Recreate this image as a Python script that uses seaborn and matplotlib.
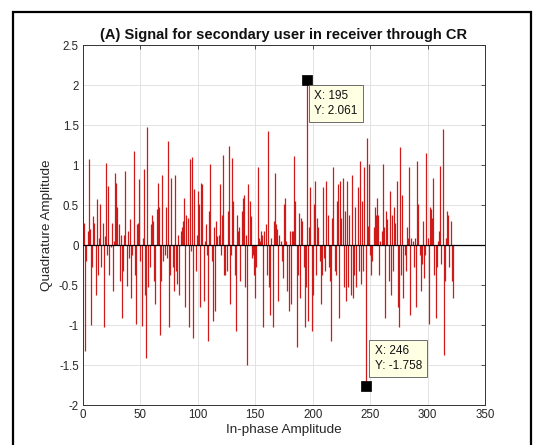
import numpy as np
import pandas as pd
import matplotlib
matplotlib.use("Agg")
import matplotlib.pyplot as plt
import seaborn as sns
from matplotlib.patches import Rectangle

# ---- data (index 1..322) ----
seg1 = [0.27, -1.33, -0.2, 0.17, 1.07, 0.2, -1.0, -0.28, 0.36, 0.28, -0.62, 0.57, -0.37, 0.09,
        0.51, -0.28, 0.28, -1.03, 0.11, 1.02, -0.12, 0.74, -0.37, -0.03, 0.28, -0.58, 0.05, 0.9]
seg2 = [0.78, 0.47, 0.26, -0.45, 0.13, -0.91, -0.33, 0.13, 0.93, -0.51, 0.17, -0.16, 0.32, -0.66,
        -0.12, 1.18, -0.37, -0.99, 0.26, 0.28, 0.82, -0.2, -1.01, 0.09, 0.95, -0.62, -1.41, 1.47, -0.53]
seg3 = [-0.28, 0.26, 0.38, 0.3, -0.45, -0.74, 0.45, 0.78, 0.47, -1.12, -0.45, 0.88, -0.2, -0.12,
        0.47, -0.16, 1.3, -1.03, -0.37, 0.84, -0.28, -0.58, 0.88, -0.33, -0.49, 0.13, -0.62, 0.17]
seg4 = [0.22, 0.3, 0.59, -0.78, 0.38, 0.34, -1.03, 1.07, -0.08, 1.1, -1.16, 0.7, -0.33, 0.13,
        0.68, 0.51, -0.78, 0.78, 0.76, -0.7, 0.05, 0.26, -0.12, -1.2, 0.43, 1.01, -0.2, -0.95, 0.22]
seg5 = [-0.83, 0.3, 0.11, 0.13, 0.76, -0.12, 0.38, 1.13, -0.37, -0.37, -0.33, 0.43, 1.24, -0.74,
        -0.12, 1.09, 0.55, -0.37, -1.07, 0.38, 0.17, 0.22, -0.45, 0.43, 0.59, 0.63, -0.53, 0.13]
seg6 = [-1.5, 0.76, 0.55, 0.36, -0.16, -0.12, -0.37, -0.66, -0.28, 0.97, 0.09, 0.05, 0.17, 0.13,
        -1.03, 0.17, 0.26, -0.37, 1.43, -0.53, -0.87, 0.09, -1.03, 0.3, 0.9, 0.26, 0.2, -0.7, 0.13]
seg7 = [0.05, -0.2, -0.41, 0.51, 0.59, 0.05, -0.58, -0.83, 0.17, -0.74, 0.17, 0.17, 1.11, 0.55,
        -1.28, -0.37, 0.4, -0.66, 0.34, 0.3, -0.28, -1.03, -0.53,
        2.061,
        -0.95, 0.22, 0.72, -1.07, -0.62, 0.51, 0.8, -0.37]
seg8 = [0.34, 0.22, -0.2, -0.74, -0.37, 0.72, -0.16, -0.33, 0.8, 0.38, -0.28, -0.45, -1.2, 0.34,
        0.97, -0.33, -0.37, 0.55, 0.76, -0.91, 0.8, 0.34, 0.84, -0.53, 0.43, -0.7, 0.8]
seg9 = [-0.53, 0.38, -0.62, 0.88, -0.66, -0.37, 0.47, -0.53, 0.72, -0.33, 1.05, -0.49, 0.55, -0.33, 0.97,
        -1.758,
        1.34, 0.24, 1.01, -0.12, -0.37, -0.2, 0.22, 0.47, 0.38, 0.59, 0.38, -0.37, 0.05, 0.17]
seg10 = [1.01, 0.22, -0.91, 0.43, 0.32, -0.45, 0.68, -0.62, 0.38, -0.33, 0.47, 0.28, 0.8, -0.78,
         -1.03, 1.22, -0.37, 0.63, -0.66, -0.12, -0.33, 0.22, 0.09, 0.97, -0.87, 0.09, 0.05, -0.28,
         0.09, -0.78, 1.05]
seg11 = [0.51, -0.12, -0.58, -0.24, 0.3, -0.41, -0.12, 1.15, 0.09, -0.99, 0.47, 0.45, 0.34, 0.84,
         -0.37, -0.91, -0.28, 0.05, 0.17, 0.99, -0.24, 1.45, -1.37, -0.45, 0.09, 0.43, 0.38, -0.28,
         0.3, -0.45, -0.66]

quad_values = seg1 + seg2 + seg3 + seg4 + seg5 + seg6 + seg7 + seg8 + seg9 + seg10 + seg11
tip_x = [195, 246]
tip_y = [2.061, -1.758]
tip_labels = ["X: 195\nY: 2.061", "X: 246\nY: -1.758"]

x_ticks = [0, 50, 100, 150, 200, 250, 300, 350]
y_ticks = [-2, -1.5, -1, -0.5, 0, 0.5, 1, 1.5, 2, 2.5]
y_tick_labels = ["-2", "-1.5", "-1", "-0.5", "0", "0.5", "1", "1.5", "2", "2.5"]

df = pd.DataFrame({"n": np.arange(1, len(quad_values) + 1), "q": quad_values})
tips = pd.DataFrame({"x": tip_x, "y": tip_y})

# ---- style ----
sns.set_theme(style="whitegrid")
plt.rcParams["font.family"] = ["Liberation Sans", "DejaVu Sans"]
plt.rcParams["axes.unicode_minus"] = False

fig = plt.figure(figsize=(5.33, 4.45), dpi=100)
fig.patch.set_facecolor("white")
ax = fig.add_axes([83 / 533, 40 / 445, 402 / 533, 360 / 445])
ax.set_facecolor("white")

# stems
ax.vlines(df["n"], 0, df["q"], color="#cf1a1a", lw=0.9, zorder=2)
ax.axhline(0, color="black", lw=0.9, zorder=3)

# data tips
sns.scatterplot(data=tips, x="x", y="y", marker="s", s=42, color="black",
                edgecolor="black", ax=ax, zorder=5, legend=False)
offsets = [((7, -10), "left", "top"), ((9, 14), "left", "bottom")]
for (xx, yy, lab, (off, ha, va)) in zip(tip_x, tip_y, tip_labels, offsets):
    ax.annotate(lab, (xx, yy), xytext=off, textcoords="offset pixels",
                ha=ha, va=va, fontsize=8.5, color="#111111", linespacing=1.3,
                bbox=dict(boxstyle="square,pad=0.45", fc="#ffffe4", ec="#555555", lw=0.6),
                zorder=6)

ax.set_xlim(0, 350)
ax.set_ylim(-2, 2.5)
ax.set_xticks(x_ticks)
ax.set_xticklabels([str(t) for t in x_ticks])
ax.set_yticks(y_ticks)
ax.set_yticklabels(y_tick_labels)

ax.grid(True, color="#dedede", lw=0.6)
for s in ax.spines.values():
    s.set_color("#333333")
    s.set_linewidth(0.7)
ax.tick_params(direction="in", length=3, width=0.6, top=True, right=True,
               labelsize=8.3, colors="#333333", pad=3)
ax.tick_params(axis="both", labelcolor="#262626")

ax.set_title("(A) Signal for secondary user in receiver through CR", fontsize=10.5,
             fontweight="bold", pad=4, color="#111111")
ax.set_xlabel("In-phase Amplitude", fontsize=9.7, labelpad=2, color="#262626")
ax.set_ylabel("Quadrature Amplitude", fontsize=9.7, labelpad=4, color="#262626")

# figure frame
fig.patches.append(Rectangle((12.5 / 533, -0.02), (531 - 12.5) / 533, 1.02 - 12 / 445,
                             transform=fig.transFigure, fill=False, ec="black", lw=1.6))

fig.savefig("out.png", dpi=100)
